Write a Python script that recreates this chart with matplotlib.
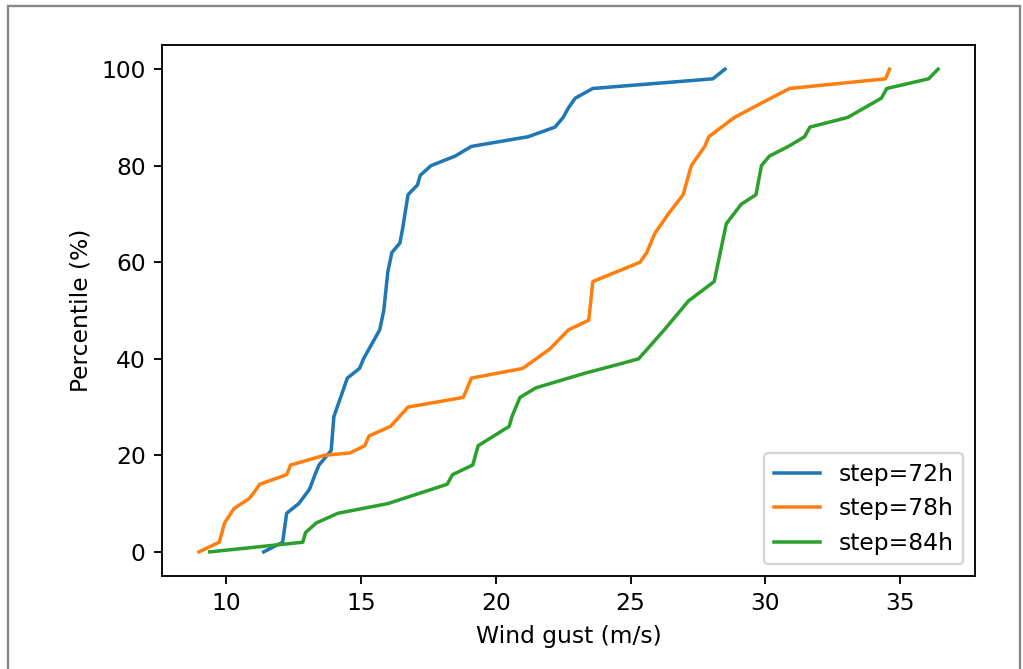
import numpy as np
import matplotlib
matplotlib.use("Agg")
import matplotlib.pyplot as plt
from matplotlib.patches import Rectangle

# percentile curves (wind gust m/s, percentile %)
gust_72 = [11.4, 12.1, 12.25, 12.7, 13.1, 13.3, 13.45, 13.9, 14.0, 14.5, 14.95, 15.1,
           15.7, 15.85, 16.0, 16.15, 16.45, 16.55, 16.75, 17.1, 17.2, 17.6, 18.5, 19.1,
           21.2, 22.2, 22.5, 22.7, 22.95, 23.6, 28.05, 28.5]
pct_72 = [0, 2, 8, 10, 13, 16, 18, 21, 28, 36, 38, 40,
          46, 50, 58, 62, 64, 67, 74, 76, 78, 80, 82, 84,
          86, 88, 90, 92, 94, 96, 98, 100]

gust_78 = [9.0, 9.75, 9.95, 10.3, 10.85, 11.0, 11.25, 12.25, 12.4, 13.65, 14.6, 15.15,
           15.3, 16.1, 16.75, 18.8, 19.1, 21.0, 21.5, 22.0, 22.7, 23.45, 23.6, 25.35,
           25.6, 25.9, 26.4, 26.95, 27.05, 27.25, 27.75, 27.9, 28.85, 30.2, 30.9, 34.45, 34.6]
pct_78 = [0, 2, 6, 9, 11, 12, 14, 16, 18, 20, 20.5, 22,
          24, 26, 30, 32, 36, 38, 40, 42, 46, 48, 56, 60,
          62, 66, 70, 74, 76, 80, 84, 86, 90, 94, 96, 98, 100]

gust_84 = [9.4, 12.85, 12.95, 13.35, 14.15, 16.0, 17.1, 18.2, 18.4, 19.15, 19.35, 20.5,
           20.6, 20.9, 21.5, 23.3, 24.65, 25.3, 26.25, 27.15, 28.1, 28.25, 28.55, 29.1,
           29.65, 29.85, 30.15, 30.85, 31.45, 31.65, 33.05, 34.3, 34.5, 36.05, 36.4]
pct_84 = [0, 2, 4, 6, 8, 10, 12, 14, 16, 18, 22, 26,
          28, 32, 34, 37, 39, 40, 46, 52, 56, 60, 68, 72,
          74, 80, 82, 84, 86, 88, 90, 94, 96, 98, 100]

labels = ["step=72h", "step=78h", "step=84h"]

fig = plt.figure(figsize=(1023 / 168, 669 / 168), dpi=168)
ax = fig.add_axes([0.1584, 0.139, 0.7947, 0.7937])
ax.plot(gust_72, pct_72, label=labels[0])
ax.plot(gust_78, pct_78, label=labels[1])
ax.plot(gust_84, pct_84, label=labels[2])
ax.set_xlabel("Wind gust (m/s)")
ax.set_ylabel("Percentile (%)")
ax.legend(loc="lower right")

# grey frame around the output cell
fig.add_artist(Rectangle((8 / 1023, -0.05), 1012 / 1023, 1 - 6 / 669 + 0.05,
                         transform=fig.transFigure, fill=False,
                         edgecolor="#888888", linewidth=1.0))

fig.savefig("out.png", dpi=168)
